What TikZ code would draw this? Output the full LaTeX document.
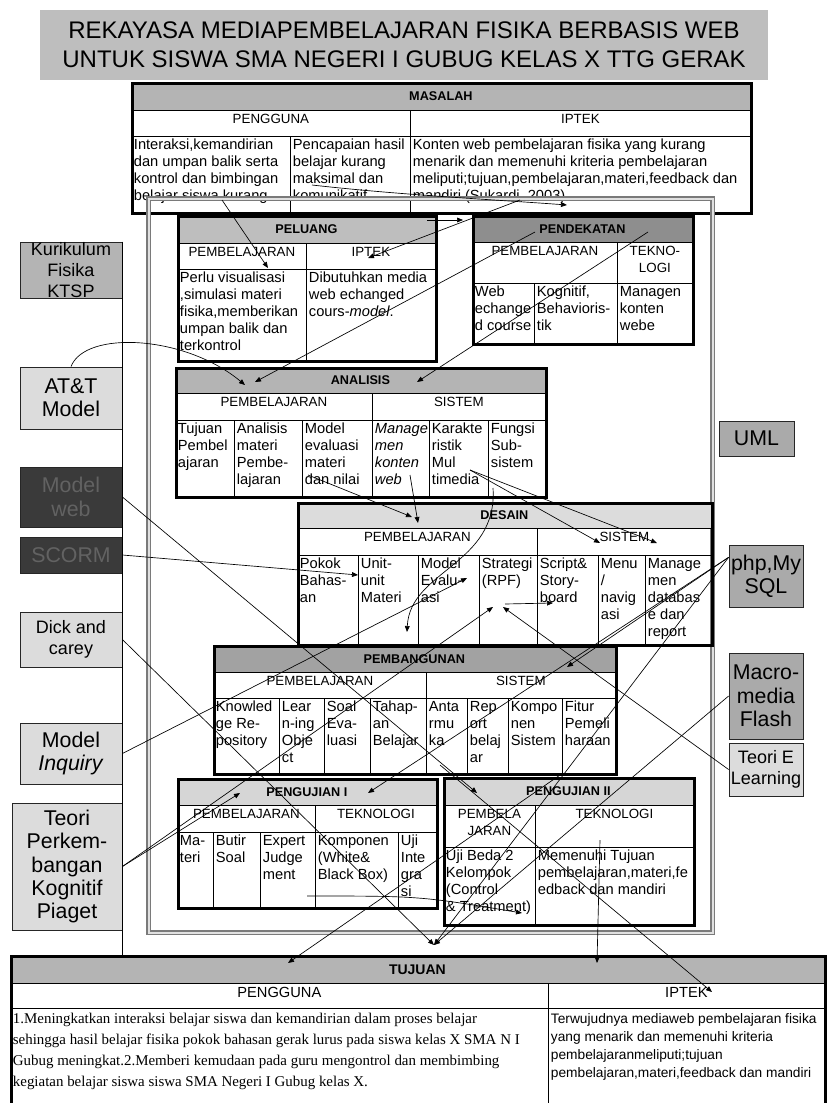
\documentclass[tikz,border=0pt]{standalone}
\usepackage{fontspec}
\setmainfont{Liberation Sans}
\newfontfamily\serifface{Liberation Serif}
\usetikzlibrary{arrows.meta,calc}
\definecolor{titlegray}{HTML}{BEBEBE}
\definecolor{headgray}{HTML}{B4B4B4}
\definecolor{darkhead}{HTML}{8E8E8E}
\definecolor{midhead}{HTML}{A2A2A2}
\definecolor{lighthead}{HTML}{D6D6D6}
\definecolor{boxlight}{HTML}{DCDCDC}
\definecolor{boxmid}{HTML}{AAAAAA}
\definecolor{boxdark}{HTML}{3A3A3A}
\definecolor{boxdarktext}{HTML}{626262}
\definecolor{framegray}{HTML}{7A7A7A}

% table cell, text at top left: [text options], name, x1, y1, x2, y2, text
\newcommand{\cellL}[7][]{%
  \node[cellbox, minimum width={(#5-#3)*0.75pt}, minimum height={(#6-#4)*0.75pt}] (#2) at (#3,#4) {};
  \node[celltext, #1, anchor=north west] (#2-t) at (#2.north west) {#7};}
% table cell, text centred at the top
\newcommand{\cellC}[7][]{%
  \node[cellbox, minimum width={(#5-#3)*0.75pt}, minimum height={(#6-#4)*0.75pt}] (#2) at (#3,#4) {};
  \node[rowtext, #1, anchor=north] (#2-t) at (#2.north) {#7};}
% grey title bar of a table
\newcommand{\headbar}[7]{%
  \node[cellbox, fill=#6, minimum width={(#4-#2)*0.75pt}, minimum height={(#5-#3)*0.75pt}] (#1) at (#2,#3) {};
  \node[headtext] (#1-t) at (#1.center) {#7};}
% thick outline round a table
\newcommand{\tableframe}[5]{%
  \node[tframe, minimum width={(#4-#2)*0.75pt}, minimum height={(#5-#3)*0.75pt}] (#1) at (#2,#3) {};}

\begin{document}
\begin{tikzpicture}[
    x=0.75pt, y=-0.75pt,
    >={Triangle[length=4.5pt, width=3.6pt]},
    cellbox/.style={draw=black, line width=0.6pt, anchor=north west, inner sep=0pt},
    celltext/.style={inner sep=2pt, align=left, font=\fontsize{11}{12.75}\selectfont},
    rowtext/.style={inner sep=3pt, align=center, font=\fontsize{10}{12.75}\selectfont},
    headtext/.style={inner sep=0pt, font=\fontsize{9.5}{11}\selectfont\bfseries},
    tframe/.style={draw=black, line width=2pt, anchor=north west, inner sep=0pt},
    bigframe/.style={draw=framegray, double=black!12, double distance=1.6pt, line width=1.2pt, anchor=north west, inner sep=0pt},
    side/.style={draw=black!85, line width=0.6pt, inner sep=0pt, align=center, font=\fontsize{16}{17.5}\selectfont},
    sidesmall/.style={side, font=\fontsize{13.5}{16}\selectfont},
    wire/.style={line width=0.5pt},
    link/.style={wire, ->},
]
    \useasboundingbox (0,0) rectangle (826,1103);

    % --- Title ---
    \node[fill=titlegray, minimum width={728*0.75pt}, minimum height={70*0.75pt}, align=center,
          inner sep=0pt, font=\fontsize{18}{21.75}\selectfont] (title) at (404,45)
        {REKAYASA MEDIAPEMBELAJARAN FISIKA BERBASIS WEB\\UNTUK SISWA SMA NEGERI I GUBUG KELAS X TTG GERAK};

    % --- Side boxes, left ---
    \node[side, sidesmall, fill=headgray, minimum width=76.5pt, minimum height=40.5pt] (kurikulum) at (71,270) {Kurikulum\\Fisika\\KTSP};
    \node[side, fill=boxlight, minimum width=76.5pt, minimum height=46.5pt] (att) at (71,398) {AT\&T\\Model};
    \node[side, fill=boxdark, text=boxdarktext, minimum width=76.5pt, minimum height=45pt] (modelweb) at (71,497) {Model\\web};
    \node[side, fill=boxdark, text=boxdarktext, minimum width=76.5pt, minimum height=27pt] (scorm) at (71,555) {SCORM};
    \node[side, sidesmall, fill=boxlight, minimum width=76.5pt, minimum height=41.25pt] (dick) at (71,639.5) {Dick and\\carey};
    \node[side, fill=boxlight, minimum width=76.5pt, minimum height=45.75pt] (inquiry) at (71,753.5) {Model\\\textit{Inquiry}};
    \node[side, fill=boxlight, minimum width=82.5pt, minimum height=95.25pt] (teori) at (67,866.5) {Teori\\Perkem-\\bangan\\Kognitif\\Piaget};

    % --- Side boxes, right ---
    \node[side, fill=boxmid, minimum width=56.25pt, minimum height=26.25pt] (uml) at (756.5,438.5) {UML};
    \node[side, fill=boxmid, minimum width=55.5pt, minimum height=46.5pt] (php) at (766,576) {php,My\\SQL};
    \node[side, fill=boxmid, minimum width=55.5pt, minimum height=64.5pt] (macro) at (766,696) {Macro-\\media\\Flash};
    \node[side, sidesmall, fill=boxlight, minimum width=55.5pt, minimum height=39.75pt] (elearn) at (766,769.5) {Teori E\\Learning};

    % --- MASALAH ---
    \headbar{mas-h}{131}{82}{750}{110}{headgray}{MASALAH}
    \cellC{mas-pg}{131}{110}{410}{136}{PENGGUNA}
    \cellC{mas-ip}{410}{110}{750}{136}{IPTEK}
    \cellL{mas-c1}{131}{136}{290}{212}{Interaksi,kemandirian\\dan umpan balik serta\\kontrol dan bimbingan\\belajar siswa kurang .}
    \cellL{mas-c2}{290}{136}{410}{212}{Pencapaian hasil\\belajar kurang\\maksimal dan\\komunikatif}
    \cellL{mas-c3}{410}{136}{750}{212}{Konten web pembelajaran fisika yang  kurang\\menarik dan memenuhi kriteria pembelajaran\\meliputi;tujuan,pembelajaran,materi,feedback dan\\mandiri (Sukardi, 2003)}
    \tableframe{masalah}{131}{82}{750}{212}

    % --- Grey frame round the process ---
    \node[bigframe, minimum width={564*0.75pt}, minimum height={734*0.75pt}] (frame) at (148,198) {};

    % --- PELUANG ---
    \headbar{pel-h}{177}{215}{435}{243}{titlegray}{PELUANG}
    \cellC{pel-pb}{177}{243}{306}{269}{PEMBELAJARAN}
    \cellC{pel-ip}{306}{243}{435}{269}{IPTEK}
    \cellL{pel-c1}{177}{269}{306}{360}{Perlu visualisasi\\,simulasi materi\\fisika,memberikan\\umpan balik dan\\terkontrol}
    \cellL{pel-c2}{306}{269}{435}{360}{Dibutuhkan  media\\web echanged\\cours-\textit{model}.}
    \tableframe{peluang}{177}{215}{435}{360}

    % --- PENDEKATAN ---
    \headbar{pnd-h}{472}{215}{692}{242}{darkhead}{PENDEKATAN}
    \cellC{pnd-pb}{472}{242}{617}{283}{PEMBELAJARAN}
    \cellC{pnd-tk}{617}{242}{692}{283}{TEKNO-\\LOGI}
    \cellL{pnd-c1}{472}{283}{534}{343}{Web\\echange\\d course}
    \cellL{pnd-c2}{534}{283}{617}{343}{Kognitif,\\Behavioris-\\tik}
    \cellL{pnd-c3}{617}{283}{692}{343}{Managen\\konten\\webe}
    \tableframe{pendekatan}{472}{215}{692}{343}

    % --- ANALISIS ---
    \headbar{ana-h}{175}{367}{545}{393}{headgray}{ANALISIS}
    \cellC{ana-pb}{175}{393}{372}{420}{PEMBELAJARAN}
    \cellC{ana-si}{372}{393}{545}{420}{SISTEM}
    \cellL{ana-c1}{175}{420}{234}{496}{Tujuan\\Pembel\\ajaran}
    \cellL{ana-c2}{234}{420}{302}{496}{Analisis\\materi\\Pembe-\\lajaran}
    \cellL{ana-c3}{302}{420}{372}{496}{Model\\evaluasi\\materi\\dan nilai}
    \cellL[font=\fontsize{11}{12.75}\selectfont\itshape]{ana-c4}{372}{420}{429}{496}{Manage\\men\\konten\\web}
    \cellL{ana-c5}{429}{420}{488}{496}{Karakte\\ristik\\Mul\\timedia}
    \cellL{ana-c6}{488}{420}{545}{496}{Fungsi\\Sub-\\sistem}
    \tableframe{analisis}{175}{367}{545}{496}

    % --- DESAIN ---
    \headbar{des-h}{297}{502}{711}{528}{boxlight}{DESAIN}
    \cellC{des-pb}{297}{528}{537}{555}{PEMBELAJARAN}
    \cellC{des-si}{537}{528}{711}{555}{SISTEM}
    \cellL{des-c1}{297}{555}{358}{644}{Pokok\\Bahas-\\an}
    \cellL{des-c2}{358}{555}{418}{644}{Unit-\\unit\\Materi}
    \cellL{des-c3}{418}{555}{479}{644}{Model\\Evalu-\\asi}
    \cellL{des-c4}{479}{555}{537}{644}{Strategi\\(RPF)}
    \cellL{des-c5}{537}{555}{598}{644}{Script\&\\Story-\\board}
    \cellL{des-c6}{598}{555}{645}{644}{Menu\\/\\navig\\asi}
    \cellL{des-c7}{645}{555}{711}{644}{Manage\\men\\databas\\e dan\\report}
    \tableframe{desain}{297}{502}{711}{644}

    % --- PEMBANGUNAN ---
    \headbar{pbg-h}{213}{645}{615}{672}{midhead}{PEMBANGUNAN}
    \cellC{pbg-pb}{213}{672}{426}{698}{PEMBELAJARAN}
    \cellC{pbg-si}{426}{672}{615}{698}{SISTEM}
    \cellL{pbg-c1}{213}{698}{279}{773}{Knowled\\ge Re-\\pository}
    \cellL{pbg-c2}{279}{698}{324}{773}{Lear\\n-ing\\Obje\\ct}
    \cellL{pbg-c3}{324}{698}{370}{773}{Soal\\Eva-\\luasi}
    \cellL{pbg-c4}{370}{698}{426}{773}{Tahap-\\an\\Belajar}
    \cellL{pbg-c5}{426}{698}{467}{773}{Anta\\rmu\\ka}
    \cellL{pbg-c6}{467}{698}{508}{773}{Rep\\ort\\belaj\\ar}
    \cellL{pbg-c7}{508}{698}{562}{773}{Kompo\\nen\\Sistem}
    \cellL{pbg-c8}{562}{698}{615}{773}{Fitur\\Pemeli\\haraan}
    \tableframe{pembangunan}{213}{645}{615}{773}

    % --- PENGUJIAN I ---
    \headbar{uj1-h}{177}{778}{436}{805}{lighthead}{PENGUJIAN I}
    \cellC{uj1-pb}{177}{805}{315}{832}{PEMBELAJARAN}
    \cellC{uj1-tk}{315}{805}{436}{832}{TEKNOLOGI}
    \cellL{uj1-c1}{177}{832}{213}{907}{Ma-\\teri}
    \cellL{uj1-c2}{213}{832}{260}{907}{Butir\\Soal}
    \cellL{uj1-c3}{260}{832}{315}{907}{Expert\\Judge\\ment}
    \cellL{uj1-c4}{315}{832}{398}{907}{Komponen\\(White\&\\Black Box)}
    \cellL{uj1-c5}{398}{832}{436}{907}{Uji\\Inte\\gra\\si}
    \tableframe{pengujian1}{177}{778}{436}{907}

    % --- PENGUJIAN II ---
    \headbar{uj2-h}{443}{777}{693}{805}{lighthead}{PENGUJIAN II}
    \cellC{uj2-pb}{443}{805}{535}{847}{PEMBELA\\JARAN}
    \cellC{uj2-tk}{535}{805}{693}{847}{TEKNOLOGI}
    \cellL{uj2-c1}{443}{847}{535}{924}{Uji Beda 2\\Kelompok\\(Control\\\& Treatment)}
    \cellL{uj2-c2}{535}{847}{693}{924}{Memenuhi Tujuan\\pembelajaran,materi,fe\\edback dan mandiri}
    \tableframe{pengujian2}{443}{777}{693}{924}

    % --- TUJUAN ---
    \headbar{tuj-h}{10}{955}{824}{983}{headgray}{\fontsize{10.5}{12}\selectfont TUJUAN}
    \cellC[font=\fontsize{11}{13}\selectfont]{tuj-pg}{10}{983}{548}{1008}{PENGGUNA}
    \cellC[font=\fontsize{11}{13}\selectfont]{tuj-ip}{548}{983}{824}{1008}{IPTEK}
    \cellL[font=\serifface\fontsize{11.2}{15.75}\selectfont, inner ysep=4pt]{tuj-c1}{10}{1008}{548}{1112}{1.Meningkatkan interaksi belajar siswa dan kemandirian dalam proses belajar\\sehingga hasil belajar fisika pokok bahasan gerak  lurus pada siswa kelas X SMA N I\\Gubug meningkat.2.Memberi kemudaan pada guru mengontrol dan membimbing\\kegiatan belajar siswa siswa SMA Negeri I Gubug kelas X.}
    \cellL[font=\fontsize{10.3}{13.5}\selectfont, inner ysep=4pt]{tuj-c2}{548}{1008}{824}{1112}{Terwujudnya mediaweb pembelajaran fisika\\yang menarik dan memenuhi kriteria\\pembelajaranmeliputi;tujuan\\pembelajaran,materi,feedback dan mandiri}
    \tableframe{tujuan}{10}{955}{824}{1112}

    % rail beside the left boxes
    \draw[wire] (kurikulum.north east) -- (kurikulum.north east |- tujuan.north);

    % --- Link end points ---
    \coordinate (s-mas1) at (222,200);
    \coordinate (s-mas2) at (312,185);
    \coordinate (s-mas3) at (520,200);
    \coordinate (s-pel) at (427,220);
    \coordinate (s-pnd1) at (535,232);
    \coordinate (s-pnd2) at (648,232);
    \coordinate (s-ana1) at (308,475);
    \coordinate (s-ana2) at (410,475);
    \coordinate (s-ana3) at (470,470);
    \coordinate (s-ana4) at (493,488);
    \coordinate (s-des) at (505,604);
    \coordinate (s-pbg1) at (440,765);
    \coordinate (s-pbg2) at (560,775);
    \coordinate (s-uj1) at (307,896);
    \coordinate (s-uj2) at (600,840);

    \coordinate (t-pel) at (268,268);
    \coordinate (t-pelip) at (368,258);
    \coordinate (t-mas) at (567,205);
    \coordinate (t-pnd) at (463,220);
    \coordinate (t-ana1) at (255,382);
    \coordinate (t-ana2) at (245,385);
    \coordinate (t-ana3) at (417,382);
    \coordinate (t-des1) at (412,517);
    \coordinate (t-des2) at (418,523);
    \coordinate (t-des3) at (600,543);
    \coordinate (t-des4) at (657,543);
    \coordinate (t-pokok) at (358,575);
    \coordinate (t-mev) at (467,578);
    \coordinate (t-rpf1) at (493,607);
    \coordinate (t-rpf2) at (503,607);
    \coordinate (t-unit) at (407,632);
    \coordinate (t-story) at (553,603);
    \coordinate (t-pbgsi) at (567,667);
    \coordinate (t-uj1a) at (240,793);
    \coordinate (t-uj1b) at (368,793);
    \coordinate (t-uj2) at (477,793);
    \coordinate (t-treat) at (522,913);
    \coordinate (t-tuj1) at (434,945);
    \coordinate (t-tuj2) at (288,963);
    \coordinate (t-tuj3) at (597,963);
    \coordinate (t-tuj4) at (712,992);

    % --- Links ---
    \draw[link] (s-mas1) -- (t-pel);
    \draw[link] (s-mas2) .. controls (400,195) and (500,200) .. (t-mas);
    \draw[link] (s-mas3) -- (t-pelip);
    \draw[link] (s-pel) -- (t-pnd);
    \draw[link] (s-pnd1) -- (t-ana1);
    \draw[link] (s-pnd2) -- (t-ana3);
    \draw[link] (att.north) .. controls (85,330) and (185,335) .. (t-ana2);

    \draw[link] (s-ana1) -- (t-des1);
    \draw[link] (s-ana2) -- (t-des2);
    \draw[link] (s-ana3) -- (t-des3);
    \draw[link] (s-ana3) -- (t-des4);
    \draw[link] (s-ana4) .. controls (498,565) and (410,570) .. (t-unit);
    \draw[link] (scorm.east) -- (t-pokok);
    \draw[link] (inquiry.east) -- (t-mev);
    \draw[link] (teori.east) -- (t-rpf1);
    \draw[link] (elearn.west) -- (t-rpf2);
    \draw[link] (s-des) -- (t-story);

    \draw[link] ([yshift=14pt]php.west) -- (t-pbgsi);
    \draw[link] ([yshift=14pt]php.west) -- (t-uj1b);
    \draw[link] ([yshift=14pt]php.west) -- (t-tuj1);
    \draw[link] (teori.east) -- (t-uj1a);
    \draw[link] (modelweb.east) -- (t-uj2);

    \draw[link] (s-uj1) .. controls (420,896) .. (t-treat);
    \draw[link] (dick.east) -- (t-tuj1);
    \draw[link] (macro.west) -- (t-tuj1);
    \draw[link] (s-pbg2) -- (t-tuj2);
    \draw[link] (s-uj2) -- (t-tuj3);
    \draw[link] (s-pbg1) -- (t-tuj4);

\end{tikzpicture}
\end{document}
